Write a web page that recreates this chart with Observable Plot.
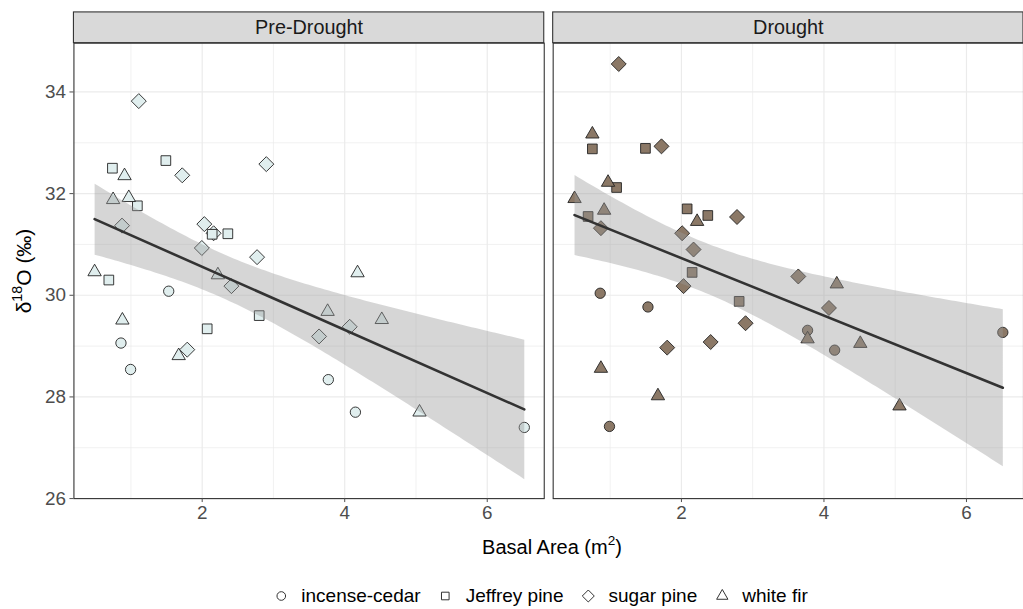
<!DOCTYPE html>
<html><head><meta charset="utf-8">
<script src="https://cdn.jsdelivr.net/npm/d3@7"></script>
<script src="https://cdn.jsdelivr.net/npm/@observablehq/plot@0.6"></script>
<style>
html,body{margin:0;padding:0;background:#fff;overflow:hidden;}
#wrap{position:relative;width:1023px;height:609px;overflow:hidden;font-family:"Liberation Sans",Arial,sans-serif;color:#000;}
#chart{position:absolute;left:0;top:0;}
#ylab{position:absolute;left:24px;top:271px;transform:translate(-50%,-50%) rotate(-90deg);font-size:21px;white-space:nowrap;}
#xlab{position:absolute;left:552px;top:547px;transform:translate(-50%,-50%);font-size:20px;white-space:nowrap;}
#legend{position:absolute;left:541px;top:596px;transform:translate(-50%,-50%);display:flex;align-items:center;font-size:19px;white-space:nowrap;}
#legend .item{display:flex;align-items:center;margin:0 9px;}
#legend svg{margin-right:13px;}
sup{font-size:0.68em;vertical-align:0.6em;line-height:0;}
</style>
</head>
<body>
<div id="wrap">
  <div id="chart"></div>
  <div id="ylab">δ<sup>18</sup>O (‰)</div>
  <div id="xlab">Basal Area (m<sup>2</sup>)</div>
  <div id="legend"></div>
</div>
<script>
// ---- categories ----
const periods = ["Pre-Drought", "Drought"];
const species = ["incense-cedar", "Jeffrey pine", "sugar pine", "white fir"];
const speciesCode = {C: "incense-cedar", J: "Jeffrey pine", S: "sugar pine", W: "white fir"};

// ---- Pre-Drought values ----
const preBA   = [1.53, 0.86, 0.995, 3.77, 4.15, 6.52,
                 0.74, 1.49, 1.09, 2.14, 2.36, 0.69, 2.07, 2.80,
                 1.11, 1.72, 2.90, 0.875, 2.03, 2.16, 1.995, 2.77, 2.41, 1.79, 3.64, 4.07,
                 0.91, 0.75, 0.97, 0.49, 2.22, 4.18, 0.88, 1.67, 3.76, 4.52, 5.05];
const preO18  = [30.08, 29.06, 28.54, 28.34, 27.70, 27.40,
                 32.50, 32.65, 31.76, 31.20, 31.21, 30.30, 29.34, 29.60,
                 33.82, 32.36, 32.58, 31.37, 31.40, 31.22, 30.93, 30.75, 30.18, 28.93, 29.19, 29.38,
                 32.35, 31.88, 31.92, 30.46, 30.40, 30.44, 29.51, 28.81, 29.68, 29.52, 27.70];
const preSp   = ["C","C","C","C","C","C",
                 "J","J","J","J","J","J","J","J",
                 "S","S","S","S","S","S","S","S","S","S","S","S",
                 "W","W","W","W","W","W","W","W","W","W","W"];

// ---- Drought values ----
const drBA    = [0.86, 1.53, 3.77, 4.15, 6.51, 0.99,
                 0.75, 1.495, 1.09, 0.69, 2.08, 2.37, 2.15, 2.81,
                 1.12, 1.72, 0.87, 2.78, 2.01, 2.17, 2.03, 3.64, 4.07, 2.90, 1.80, 2.41,
                 0.75, 0.97, 0.50, 0.915, 2.22, 4.18, 3.77, 4.51, 0.87, 1.67, 5.06];
const drO18   = [30.04, 29.77, 29.31, 28.92, 29.27, 27.42,
                 32.88, 32.89, 32.12, 31.55, 31.70, 31.57, 30.45, 29.88,
                 34.55, 32.93, 31.32, 31.54, 31.22, 30.90, 30.18, 30.37, 29.75, 29.45, 28.97, 29.08,
                 33.17, 32.22, 31.90, 31.67, 31.45, 30.22, 29.14, 29.05, 28.56, 28.02, 27.82];
const drSp    = ["C","C","C","C","C","C",
                 "J","J","J","J","J","J","J","J",
                 "S","S","S","S","S","S","S","S","S","S","S","S",
                 "W","W","W","W","W","W","W","W","W","W","W"];

// ---- ticks ----
const xTicks = [2, 4, 6];
const xMinor = [1, 3, 5];
const yTicks = [26, 28, 30, 32, 34];
const yMinor = [27, 29, 31, 33];

// ---- styling ----
const shapes = ["circle", "square", "diamond2", "triangle"];
const shapeR = {"incense-cedar": 5.2, "Jeffrey pine": 5.5, "sugar pine": 6.8, "white fir": 5.0};
const periodFill = ["#E0EEEE", "#8B7866"];
const xDomain = [0.2, 6.8];
const yDomain = [26, 34.96];
const stripTop = 35.565; // strip band above the panel, in y units

function rows(period, ba, o18, sp) {
  return ba.map((b, i) => ({period, ba: b, o18: o18[i], sp: speciesCode[sp[i]]}));
}
const points = [...rows("Pre-Drought", preBA, preO18, preSp), ...rows("Drought", drBA, drO18, drSp)];

const font = '"Liberation Sans", Arial, sans-serif';
const chart = Plot.plot({
  width: 1031,
  height: 530,
  marginLeft: 74,
  marginRight: 0,
  marginTop: 43,
  marginBottom: 28,
  style: {fontFamily: font, fontSize: "19px", background: "transparent", overflow: "visible"},
  x: {domain: xDomain},
  y: {domain: yDomain},
  r: {type: "identity"},
  fx: {domain: periods, paddingInner: 9 / 483, paddingOuter: 0, axis: null},
  symbol: {domain: species, range: shapes},
  color: {domain: periods, range: periodFill},
  marks: [
    Plot.gridX(xMinor, {stroke: "#EBEBEB", strokeOpacity: 1, strokeWidth: 0.7}),
    Plot.gridY(yMinor, {stroke: "#EBEBEB", strokeOpacity: 1, strokeWidth: 0.7}),
    Plot.gridX(xTicks, {stroke: "#EBEBEB", strokeOpacity: 1, strokeWidth: 1.2}),
    Plot.gridY(yTicks, {stroke: "#EBEBEB", strokeOpacity: 1, strokeWidth: 1.2}),
    Plot.rect(periods, {fx: d => d, y1: yDomain[1], y2: stripTop, fill: "#D9D9D9", stroke: "#333333", strokeWidth: 1.1}),
    Plot.text(periods, {fx: d => d, text: d => d, frameAnchor: "top", lineAnchor: "middle", dy: -15.5, fontSize: 20, fill: "#1A1A1A"}),
    Plot.dot(points, {x: "ba", y: "o18", fx: "period", symbol: "sp", fill: "period", stroke: "#222222", strokeWidth: 0.9, r: d => shapeR[d.sp]}),
    Plot.linearRegressionY(points, {x: "ba", y: "o18", fx: "period", fill: "#999999", fillOpacity: 0.4, stroke: "#333333", strokeWidth: 2.6}),
    Plot.frame({stroke: "#333333", strokeWidth: 1.1}),
    Plot.axisY({ticks: yTicks, tickFormat: d3.format("d"), tickSize: 4, tickPadding: 4, fontSize: 19, label: null, color: "#4D4D4D"}),
    Plot.axisX({ticks: xTicks, tickFormat: d3.format("d"), tickSize: 4, tickPadding: 3, fontSize: 19, label: null, color: "#4D4D4D"})
  ]
});
document.getElementById("chart").appendChild(chart);

// ---- legend ----
const symTypes = {circle: d3.symbolCircle, square: d3.symbolSquare, diamond2: d3.symbolDiamond2, triangle: d3.symbolTriangle};
const legendR = [4.3, 4.3, 5.4, 4.2];
const legend = document.getElementById("legend");
species.forEach((s, i) => {
  const item = document.createElement("div");
  item.className = "item";
  const path = d3.symbol(symTypes[shapes[i]], Math.PI * legendR[i] * legendR[i])();
  item.innerHTML = `<svg width="14" height="14" viewBox="-7 -7 14 14"><path d="${path}" fill="none" stroke="#333" stroke-width="1"/></svg><span>${s}</span>`;
  legend.appendChild(item);
});
</script>
</body></html>
